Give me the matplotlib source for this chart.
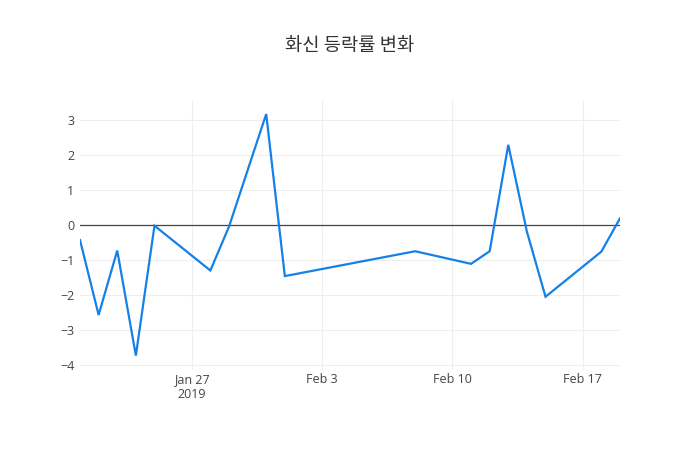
import matplotlib
matplotlib.use("Agg")
import matplotlib.pyplot as plt
import matplotlib.dates as mdates
import numpy as np
import pandas as pd

plt.rcParams['font.family'] = ['Open Sans', 'Noto Sans CJK KR', 'DejaVu Sans']

dates = ["2019-01-21", "2019-01-22", "2019-01-23", "2019-01-24", "2019-01-25",
         "2019-01-28", "2019-01-29", "2019-01-31", "2019-02-01", "2019-02-08",
         "2019-02-11", "2019-02-12", "2019-02-13", "2019-02-14", "2019-02-15",
         "2019-02-18", "2019-02-19"]
values = [-0.43, -2.57, -0.73, -3.73, -0.02, -1.30, -0.05, 3.17, -1.46, -0.75,
          -1.11, -0.75, 2.29, -0.19, -2.05, -0.76, 0.19]
title = "화신 등락률 변화"
xtick_dates = ["2019-01-27", "2019-02-03", "2019-02-10", "2019-02-17"]
xtick_labels = ["Jan 27\n2019", "Feb 3", "Feb 10", "Feb 17"]
yticks = [-4, -3, -2, -1, 0, 1, 2, 3]

x = pd.to_datetime(dates)

fig = plt.figure(figsize=(7, 4.5), dpi=100)
ax = fig.add_axes([80/700, 80/450, 540/700, 270/450])

ax.plot(x, values, color='#1580e8', lw=1.6, zorder=3, solid_joinstyle='miter')
ax.axhline(0, color='#444444', lw=0.9, zorder=2)

ax.set_xlim(pd.Timestamp("2019-01-21"), pd.Timestamp("2019-02-19"))
ax.set_ylim(-4.143, 3.571)

ax.set_xticks(pd.to_datetime(xtick_dates))
ax.set_xticklabels(xtick_labels)
ax.set_yticks(yticks)
ax.set_yticklabels([str(v).replace('-', '\u2212') for v in yticks])

ax.grid(True, color='#eeeeee', lw=0.8, zorder=0)
ax.set_axisbelow(True)
for s in ax.spines.values():
    s.set_visible(False)
ax.tick_params(length=0, labelsize=9, colors='#444444', pad=4)
ax.tick_params(axis='x', pad=2)

fig.text(0.5, 1 - 45/450, title, ha='center', va='center', fontsize=13.5,
         color='#333333', family=['Noto Sans CJK KR', 'DejaVu Sans'])

fig.savefig("out.png", dpi=100, facecolor='white')
